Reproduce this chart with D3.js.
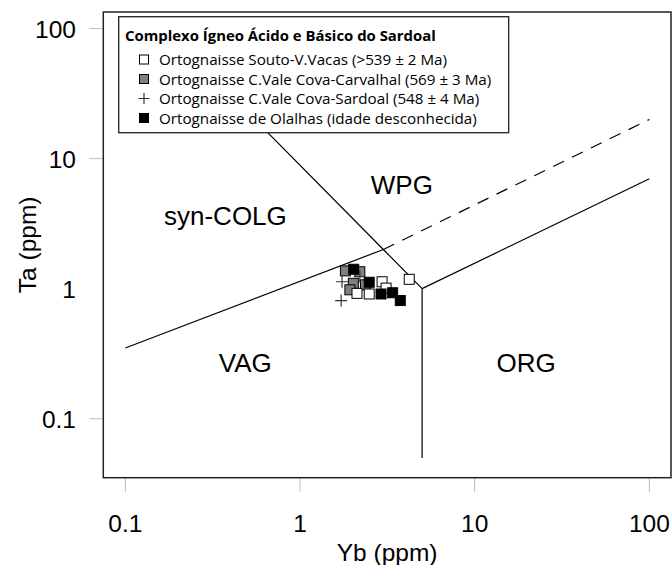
<!DOCTYPE html>
<html>
<head>
<meta charset="utf-8">
<script src="https://cdn.jsdelivr.net/npm/d3@7"></script>
<style>
  body { margin: 0; background: #fff; }
  svg { display: block; font-family: "Liberation Sans", Arial, sans-serif; }
</style>
</head>
<body>
<svg id="chart"></svg>
<script>
// Ta-Yb discrimination diagram (Pearce et al. 1984)

// Sample groups, values (Yb ppm, Ta ppm)
const souto = [[2.12, 0.92], [2.49, 0.91], [2.95, 1.13], [3.11, 1.01], [4.22, 1.18]];
const carvalhal = [[1.82, 1.37], [2.2, 1.35], [2.02, 1.1], [1.93, 0.98], [2.37, 1.07]];
const sardoal = [[1.74, 1.13], [1.72, 0.81], [2.2, 1.24]];
const olalhas = [[2.03, 1.41], [2.49, 1.12], [2.91, 0.91], [3.39, 0.93], [3.75, 0.81]];

// Field boundaries
const boundaries = [
  { pts: [[0.1, 0.35], [3, 2]], dashed: false },
  { pts: [[3, 2], [100, 20]], dashed: true },
  { pts: [[0.55, 20], [3, 2], [5, 1]], dashed: false },
  { pts: [[5, 0.05], [5, 1]], dashed: false },
  { pts: [[5, 1], [100, 7]], dashed: false }
];

const fields = [
  { name: "syn-COLG", x: 0.374, y: 3.09 },
  { name: "WPG", x: 3.83, y: 5.35 },
  { name: "VAG", x: 0.486, y: 0.229 },
  { name: "ORG", x: 19.7, y: 0.229 }
];

const xTicks = [0.1, 1, 10, 100];
const yTicks = [0.1, 10, 100];
const yLabels = [0.1, 1, 10, 100];

const legendTitle = "Complexo Ígneo Ácido e Básico do Sardoal";
const legendItems = [
  { label: "Ortognaisse Souto-V.Vacas (>539 ± 2 Ma)", type: "square", fill: "#fff" },
  { label: "Ortognaisse C.Vale Cova-Carvalhal (569 ± 3 Ma)", type: "square", fill: "#808080" },
  { label: "Ortognaisse C.Vale Cova-Sardoal (548 ± 4 Ma)", type: "plus" },
  { label: "Ortognaisse de Olalhas (idade desconhecida)", type: "square", fill: "#000" }
];

const width = 672;
const height = 565;
const margin = { left: 103.3, right: 1, top: 12, bottom: 87.3 };

const svg = d3.select("#chart").attr("width", width).attr("height", height);

const x = d3.scaleLog()
  .domain([0.0748, 133])
  .range([margin.left, width - margin.right]);
const y = d3.scaleLog()
  .domain([0.0352, 134])
  .range([height - margin.bottom, margin.top]);

const x0 = margin.left, x1 = width - margin.right;
const y0 = height - margin.bottom, y1 = margin.top;

// Ticks (outside the frame, light grey)
svg.append("g")
  .selectAll("line")
  .data(xTicks)
  .join("line")
  .attr("x1", (d) => x(d)).attr("x2", (d) => x(d))
  .attr("y1", y0).attr("y2", y0 + 14)
  .attr("stroke", "#bbb");

svg.append("g")
  .selectAll("line")
  .data(yTicks)
  .join("line")
  .attr("x1", x0 - 14).attr("x2", x0)
  .attr("y1", (d) => y(d)).attr("y2", (d) => y(d))
  .attr("stroke", "#bbb");

svg.append("g")
  .selectAll("text")
  .data(xTicks)
  .join("text")
  .attr("x", (d) => x(d))
  .attr("y", 532)
  .attr("text-anchor", "middle")
  .attr("font-size", 24.5)
  .text((d) => d);

svg.append("g")
  .selectAll("text")
  .data(yLabels)
  .join("text")
  .attr("x", 76)
  .attr("y", (d) => y(d) + 9)
  .attr("text-anchor", "end")
  .attr("font-size", 24.5)
  .text((d) => d);

svg.append("text")
  .attr("x", (x0 + x1) / 2)
  .attr("y", 561)
  .attr("text-anchor", "middle")
  .attr("font-size", 24.5)
  .text("Yb (ppm)");

svg.append("text")
  .attr("transform", `translate(36,${(y0 + y1) / 2}) rotate(-90)`)
  .attr("text-anchor", "middle")
  .attr("font-size", 24.5)
  .text("Ta (ppm)");

// Field boundaries
const line = d3.line().x((d) => x(d[0])).y((d) => y(d[1]));
svg.append("g")
  .selectAll("path")
  .data(boundaries)
  .join("path")
  .attr("d", (d) => line(d.pts))
  .attr("fill", "none")
  .attr("stroke", "#000")
  .attr("stroke-width", 1.2)
  .attr("stroke-dasharray", (d) => (d.dashed ? "12,9" : null));

// Field names
svg.append("g")
  .selectAll("text")
  .data(fields)
  .join("text")
  .attr("x", (d) => x(d.x))
  .attr("y", (d) => y(d.y))
  .attr("text-anchor", "middle")
  .attr("font-size", 26)
  .text((d) => d.name);

// Data points
const size = 10;
function squares(data, fill) {
  svg.append("g")
    .selectAll("rect")
    .data(data)
    .join("rect")
    .attr("x", (d) => x(d[0]) - size / 2)
    .attr("y", (d) => y(d[1]) - size / 2)
    .attr("width", size)
    .attr("height", size)
    .attr("fill", fill)
    .attr("stroke", "#000")
    .attr("stroke-width", 1);
}
function plus(g, cx, cy, r) {
  g.append("path")
    .attr("d", `M${cx - r},${cy}H${cx + r}M${cx},${cy - r}V${cy + r}`)
    .attr("stroke", "#333")
    .attr("stroke-width", 1.2);
}

squares(carvalhal, "#808080");
squares(souto, "#fff");
squares(olalhas, "#000");
const plusG = svg.append("g");
sardoal.forEach((d) => plus(plusG, x(d[0]), y(d[1]), 6));

// Frame
svg.append("rect")
  .attr("x", x0).attr("y", y1)
  .attr("width", x1 - x0).attr("height", y0 - y1)
  .attr("fill", "none")
  .attr("stroke", "#222")
  .attr("stroke-width", 1.5);

// Legend
const lg = svg.append("g").attr("font-family", "'Open Sans', sans-serif");
lg.append("rect")
  .attr("x", 118.7).attr("y", 16.7)
  .attr("width", 390).attr("height", 116)
  .attr("fill", "#fff")
  .attr("stroke", "#222")
  .attr("stroke-width", 1.3);

lg.append("text")
  .attr("x", 125).attr("y", 40.5)
  .attr("font-size", 14.9)
  .attr("font-weight", "bold")
  .text(legendTitle);

legendItems.forEach((d, i) => {
  const cy = 59.5 + i * 19.5;
  if (d.type === "square") {
    lg.append("rect")
      .attr("x", 139.5).attr("y", cy - 4.5)
      .attr("width", 9).attr("height", 9)
      .attr("fill", d.fill)
      .attr("stroke", "#000");
  } else {
    plus(lg, 144, cy, 5.5);
  }
  lg.append("text")
    .attr("x", 159).attr("y", cy + 5.5)
    .attr("font-size", 15.2)
    .text(d.label);
});
</script>
</body>
</html>
